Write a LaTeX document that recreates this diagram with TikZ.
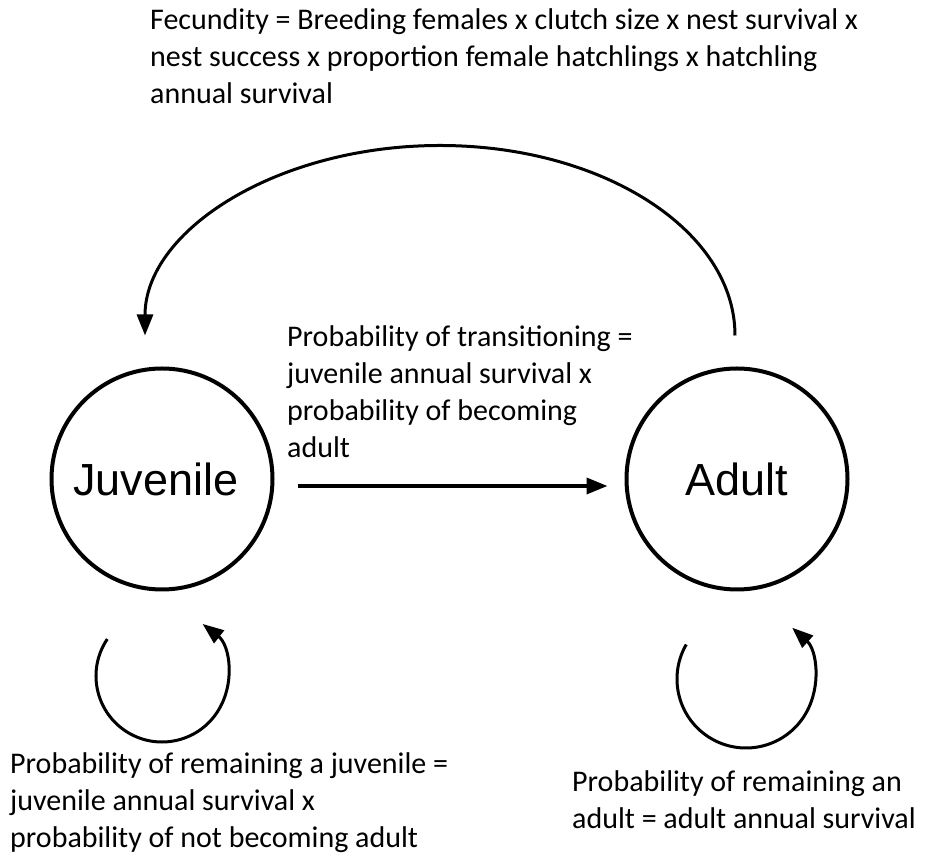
\documentclass[tikz,border=0pt]{standalone}
\usepackage{fontspec}
\setmainfont{Carlito}
\newfontfamily\statefont{Liberation Sans}
\usetikzlibrary{arrows.meta}

\begin{document}
\begin{tikzpicture}[x=1pt,y=1pt,
  stage/.style={draw, circle, line width=4pt, minimum size=221pt,
    inner sep=0pt, font=\statefont\fontsize{45}{54}\selectfont},
  note/.style={anchor=base west, align=left, inner sep=0pt,
    font=\fontsize{30}{37}\selectfont},
  flow/.style={line width=3pt, -{Triangle[length=21pt,width=16pt]}}]
\useasboundingbox (0,0) rectangle (929,856);

\node[stage] (juv) at (162,377) {\hspace*{-12pt}Juvenile};
\node[stage] (adult) at (737,377) {Adult};

% fecundity arc back to juveniles
\coordinate (fecstart) at ([shift={(-2,31)}]adult.north);
\draw[flow] (fecstart) arc[start angle=0, end angle=180, x radius=295, y radius=190];
\node[note] (fecund) at (150,752) {Fecundity = Breeding females x clutch size x nest survival x\\
  nest success x proportion female hatchlings x hatchling\\
  annual survival};

% transition
\draw[flow, line width=3.5pt] ([shift={(23,-7)}]juv.east) -- ([shift={(-17,-7)}]adult.west);
\node[note] (trans) at (287,398) {Probability of transitioning =\\
  juvenile annual survival x\\
  probability of becoming\\
  adult};

% staying in the same stage
\coordinate (juvloop) at ([yshift=-197]juv.center);
\coordinate (adultloop) at ([shift={(9,-200)}]adult.center);
\draw[flow] (juvloop) ++(146:66) arc[start angle=146, end angle=412, radius=66];
\draw[flow] (adultloop) ++(150:69) arc[start angle=150, end angle=408, radius=69];
\node[note] (juvstay) at (10,8) {Probability of remaining a juvenile =\\
  juvenile annual survival x\\
  probability of not becoming adult};
\node[note] (adultstay) at (572,27) {Probability of remaining an\\
  adult = adult annual survival};
\end{tikzpicture}
\end{document}
